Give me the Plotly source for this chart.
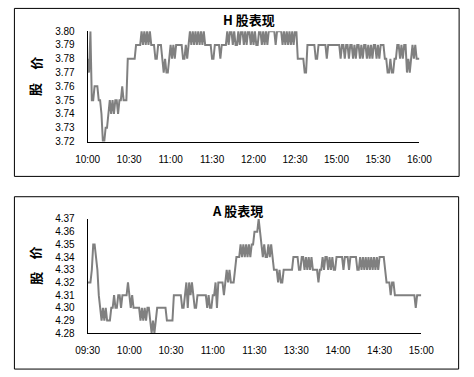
import plotly.graph_objects as go

# ---------------- data ----------------
h_ticktext = ["10:00", "10:30", "11:00", "11:30", "12:00", "12:30", "15:00", "15:30", "16:00"]
a_ticktext = ["09:30", "10:00", "10:30", "11:00", "11:30", "13:30", "14:00", "14:30", "15:00"]
tick_positions = [0, 30, 60, 90, 120, 150, 180, 210, 240]

h_price = [
    3.78, 3.77, 3.80, 3.75, 3.75, 3.76, 3.76, 3.76, 3.75, 3.75,
    3.74, 3.72, 3.72, 3.73, 3.73, 3.74, 3.75, 3.74, 3.75, 3.74,
    3.75, 3.75, 3.74, 3.75, 3.75, 3.76, 3.75, 3.75, 3.75, 3.78,
    3.78, 3.78, 3.78, 3.78, 3.78, 3.79, 3.79, 3.79, 3.79, 3.80,
    3.79, 3.80, 3.79, 3.80, 3.79, 3.80, 3.79, 3.79, 3.79, 3.78,
    3.78, 3.79, 3.79, 3.79, 3.78, 3.77, 3.78, 3.77, 3.77, 3.78,
    3.79, 3.78, 3.79, 3.78, 3.79, 3.79, 3.79, 3.79, 3.79, 3.78,
    3.78, 3.79, 3.78, 3.79, 3.80, 3.79, 3.80, 3.79, 3.80, 3.79,
    3.80, 3.79, 3.80, 3.79, 3.80, 3.79, 3.79, 3.79, 3.79, 3.79,
    3.78, 3.78, 3.79, 3.79, 3.79, 3.79, 3.78, 3.79, 3.79, 3.79,
    3.79, 3.80, 3.79, 3.80, 3.80, 3.79, 3.80, 3.79, 3.79, 3.80,
    3.79, 3.80, 3.80, 3.79, 3.80, 3.79, 3.80, 3.80, 3.79, 3.80,
    3.79, 3.80, 3.79, 3.79, 3.80, 3.80, 3.79, 3.80, 3.79, 3.80,
    3.79, 3.80, 3.80, 3.80, 3.80, 3.80, 3.79, 3.80, 3.80, 3.80,
    3.80, 3.79, 3.80, 3.79, 3.80, 3.79, 3.80, 3.79, 3.80, 3.79,
    3.80, 3.80, 3.78, 3.78, 3.78, 3.78, 3.78, 3.77, 3.77, 3.79,
    3.79, 3.79, 3.79, 3.79, 3.79, 3.78, 3.78, 3.79, 3.79, 3.79,
    3.79, 3.79, 3.79, 3.78, 3.79, 3.79, 3.79, 3.79, 3.79, 3.79,
    3.79, 3.79, 3.79, 3.78, 3.79, 3.79, 3.78, 3.79, 3.79, 3.78,
    3.79, 3.79, 3.78, 3.79, 3.78, 3.79, 3.79, 3.78, 3.79, 3.78,
    3.79, 3.79, 3.78, 3.79, 3.78, 3.79, 3.78, 3.79, 3.79, 3.78,
    3.79, 3.78, 3.79, 3.79, 3.79, 3.78, 3.78, 3.77, 3.77, 3.78,
    3.77, 3.77, 3.78, 3.78, 3.79, 3.79, 3.78, 3.79, 3.78, 3.79,
    3.79, 3.77, 3.78, 3.77, 3.78, 3.79, 3.78, 3.79, 3.78, 3.78, 3.78,
]

a_price = [
    4.32, 4.32, 4.32, 4.33, 4.35, 4.35, 4.34, 4.33, 4.31, 4.30,
    4.29, 4.30, 4.29, 4.30, 4.29, 4.29, 4.29, 4.30, 4.30, 4.31,
    4.30, 4.30, 4.31, 4.31, 4.30, 4.31, 4.31, 4.31, 4.31, 4.32,
    4.31, 4.30, 4.31, 4.30, 4.30, 4.30, 4.30, 4.30, 4.29, 4.30,
    4.29, 4.30, 4.29, 4.30, 4.30, 4.29, 4.28, 4.29, 4.28, 4.29,
    4.30, 4.30, 4.30, 4.30, 4.30, 4.30, 4.30, 4.29, 4.29, 4.29,
    4.29, 4.29, 4.31, 4.31, 4.31, 4.31, 4.31, 4.31, 4.30, 4.30,
    4.31, 4.32, 4.30, 4.32, 4.31, 4.32, 4.31, 4.30, 4.30, 4.31,
    4.31, 4.31, 4.31, 4.31, 4.31, 4.31, 4.30, 4.31, 4.30, 4.30,
    4.31, 4.31, 4.32, 4.30, 4.32, 4.32, 4.32, 4.32, 4.31, 4.32,
    4.33, 4.32, 4.33, 4.32, 4.32, 4.32, 4.33, 4.34, 4.34, 4.34,
    4.35, 4.34, 4.35, 4.34, 4.35, 4.34, 4.35, 4.34, 4.35, 4.35,
    4.36, 4.36, 4.36, 4.37, 4.36, 4.35, 4.34, 4.35, 4.34, 4.34,
    4.35, 4.34, 4.35, 4.34, 4.33, 4.33, 4.33, 4.32, 4.33, 4.32,
    4.32, 4.33, 4.33, 4.33, 4.33, 4.33, 4.33, 4.33, 4.34, 4.34,
    4.34, 4.34, 4.33, 4.33, 4.34, 4.34, 4.33, 4.34, 4.33, 4.34,
    4.33, 4.34, 4.33, 4.33, 4.33, 4.33, 4.32, 4.33, 4.33, 4.34,
    4.33, 4.34, 4.34, 4.33, 4.34, 4.33, 4.34, 4.33, 4.33, 4.34,
    4.34, 4.34, 4.34, 4.34, 4.33, 4.34, 4.34, 4.34, 4.33, 4.34,
    4.34, 4.34, 4.34, 4.34, 4.33, 4.33, 4.34, 4.33, 4.34, 4.33,
    4.34, 4.33, 4.34, 4.33, 4.34, 4.33, 4.34, 4.33, 4.34, 4.33,
    4.34, 4.34, 4.34, 4.34, 4.33, 4.32, 4.32, 4.32, 4.31, 4.32,
    4.32, 4.31, 4.31, 4.31, 4.31, 4.31, 4.31, 4.31, 4.31, 4.31,
    4.31, 4.31, 4.31, 4.31, 4.31, 4.31, 4.30, 4.31, 4.31, 4.31, 4.31,
]

h_minutes = list(range(len(h_price)))
a_minutes = list(range(len(a_price)))

# ---------------- figure ----------------
W, H = 474, 377
LINE = "#808080"
TICKFONT = dict(family="Arial, Liberation Sans, sans-serif", size=10, color="black")
CJK = "Noto Sans CJK SC, sans-serif"


def px_x(x):
    return x / W


def px_y(y):
    return 1 - y / H


fig = go.Figure()
fig.add_trace(go.Scatter(x=h_minutes, y=h_price, mode="lines",
                         line=dict(color=LINE, width=2), xaxis="x", yaxis="y",
                         showlegend=False, hoverinfo="skip"))
fig.add_trace(go.Scatter(x=a_minutes, y=a_price, mode="lines",
                         line=dict(color=LINE, width=2), xaxis="x2", yaxis="y2",
                         showlegend=False, hoverinfo="skip"))

common_x = dict(tickmode="array", tickvals=tick_positions, range=[0, 240],
                showgrid=False, zeroline=False, showline=True, linecolor="black",
                linewidth=1, ticks="", tickfont=TICKFONT, ticklabelstandoff=8,
                fixedrange=True)
common_y = dict(showgrid=False, zeroline=False, showline=True, linecolor="black",
                linewidth=1, ticks="", tickfont=TICKFONT, dtick=0.01,
                tickformat=".2f", ticklabelstandoff=10, fixedrange=True)

ylab_font = dict(family=CJK, size=13, color="black")

fig.update_layout(
    width=W, height=H,
    margin=dict(l=0, r=0, t=0, b=0),
    paper_bgcolor="white", plot_bgcolor="white",
    xaxis=dict(common_x, domain=[px_x(79), px_x(430)], ticktext=h_ticktext, anchor="y"),
    yaxis=dict(common_y, domain=[px_y(140), px_y(26)], range=[3.72, 3.80], anchor="x"),
    xaxis2=dict(common_x, domain=[px_x(79), px_x(432)], ticktext=a_ticktext, anchor="y2"),
    yaxis2=dict(common_y, domain=[px_y(338), px_y(220)], range=[4.28, 4.37], anchor="x2"),
    shapes=[
        dict(type="rect", xref="paper", yref="paper",
             x0=px_x(1.5), x1=px_x(472), y0=px_y(176), y1=px_y(2.5),
             line=dict(color="black", width=1), fillcolor="rgba(0,0,0,0)", layer="below"),
        dict(type="rect", xref="paper", yref="paper",
             x0=px_x(1.5), x1=px_x(471.5), y0=px_y(375), y1=px_y(197),
             line=dict(color="black", width=1), fillcolor="rgba(0,0,0,0)", layer="below"),
    ],
    annotations=[
        dict(text="<b>H 股表现</b>", xref="paper", yref="paper", x=px_x(250), y=px_y(14),
             showarrow=False, font=dict(family=CJK, size=13, color="black"),
             xanchor="center", yanchor="middle"),
        dict(text="<b>A 股表現</b>", xref="paper", yref="paper", x=px_x(237), y=px_y(211),
             showarrow=False, font=dict(family=CJK, size=13, color="black"),
             xanchor="center", yanchor="middle"),
        dict(text="<b>价</b>", xref="paper", yref="paper", x=px_x(23), y=px_y(59),
             showarrow=False, textangle=-90, font=ylab_font,
             xanchor="center", yanchor="middle"),
        dict(text="<b>股</b>", xref="paper", yref="paper", x=px_x(23), y=px_y(86),
             showarrow=False, textangle=-90, font=ylab_font,
             xanchor="center", yanchor="middle"),
        dict(text="<b>价</b>", xref="paper", yref="paper", x=px_x(23), y=px_y(255),
             showarrow=False, textangle=-90, font=ylab_font,
             xanchor="center", yanchor="middle"),
        dict(text="<b>股</b>", xref="paper", yref="paper", x=px_x(23), y=px_y(281),
             showarrow=False, textangle=-90, font=ylab_font,
             xanchor="center", yanchor="middle"),
    ],
)

fig.write_html("out.html")
